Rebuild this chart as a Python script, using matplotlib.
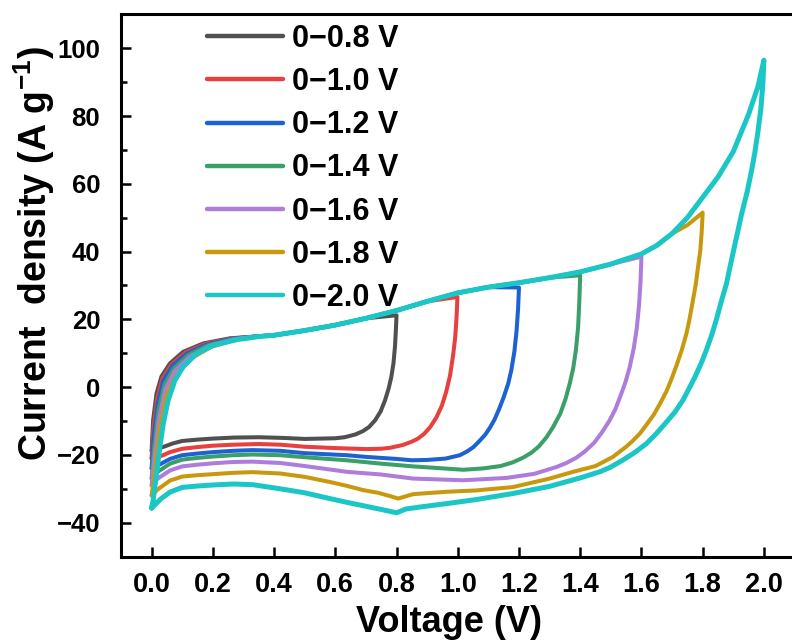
import matplotlib
matplotlib.use("Agg")
import matplotlib.pyplot as plt

# ---------------- data ----------------
labels = ["0\u22120.8 V", "0\u22121.0 V", "0\u22121.2 V", "0\u22121.4 V",
          "0\u22121.6 V", "0\u22121.8 V", "0\u22122.0 V"]
colors = ["#505050", "#e8403f", "#1c62d4", "#3a9f68", "#ae7ddc", "#c8990f", "#1ac6c6"]

# shared anodic (upper) envelope, V > 0.35
env_v = [0.4, 0.5, 0.6, 0.7, 0.8, 0.9, 1.0, 1.1, 1.2, 1.3, 1.4, 1.5, 1.6, 1.65,
         1.7, 1.75, 1.8, 1.85, 1.9, 1.95, 1.98]
env_i = [15.3, 16.7, 18.3, 20.3, 22.6, 25.3, 27.8, 29.5, 30.8, 32.3, 34.0, 36.3,
         39.3, 41.8, 45.3, 50.0, 56.0, 62.0, 69.5, 80.5, 88.5]

# anodic start segments (V <= 0.35)
s08_v = [0, 0.005, 0.016, 0.032, 0.06, 0.103, 0.169, 0.256, 0.35]
s08_i = [-18.8, -9.7, -1.9, 3.1, 7.0, 10.4, 12.9, 14.4, 15.0]
s10_v = [0, 0.006, 0.018, 0.035, 0.065, 0.11, 0.175, 0.26, 0.35]
s10_i = [-21.0, -12.0, -3.5, 2.5, 6.7, 10.2, 12.8, 14.3, 15.0]
s12_v = [0, 0.007, 0.02, 0.038, 0.068, 0.115, 0.18, 0.265, 0.35]
s12_i = [-24.0, -14.5, -5.0, 1.8, 6.3, 9.9, 12.6, 14.3, 15.0]
s14_v = [0, 0.008, 0.022, 0.042, 0.072, 0.12, 0.185, 0.27, 0.35]
s14_i = [-27.0, -18.0, -7.0, 0.8, 5.5, 9.5, 12.4, 14.2, 15.0]
s16_v = [0, 0.009, 0.024, 0.045, 0.076, 0.125, 0.19, 0.27, 0.35]
s16_i = [-29.0, -21.0, -9.5, -0.5, 4.8, 9.0, 12.2, 14.1, 15.0]
s18_v = [0, 0.01, 0.026, 0.048, 0.08, 0.13, 0.195, 0.275, 0.35]
s18_i = [-32.0, -25.0, -12.5, -2.5, 3.5, 8.5, 11.9, 14.0, 15.0]
s20_v = [0, 0.005, 0.016, 0.027, 0.038, 0.054, 0.076, 0.103, 0.147, 0.201, 0.278, 0.35]
s20_i = [-35.7, -33.4, -25.6, -17.7, -10.8, -3.9, 2.0, 6.0, 9.9, 12.3, 14.0, 14.9]

# cathodic (return) branches, from the vertex back to 0 V
d08_v = [0.80, 0.798, 0.795, 0.79, 0.783, 0.774, 0.762, 0.748, 0.73, 0.71, 0.69,
         0.665, 0.63, 0.6, 0.5, 0.43, 0.35, 0.267, 0.2, 0.15, 0.1, 0.07, 0.043, 0.02, 0]
d08_i = [21.2, 17.0, 12.0, 7.0, 3.0, -0.5, -4.0, -7.2, -9.8, -11.8, -13.0,
         -14.0, -14.8, -15.1, -15.3, -15.0, -14.8, -14.9, -15.2, -15.5, -15.9, -16.6,
         -17.5, -18.2, -18.8]
d10_v = [0.999, 0.996, 0.992, 0.985, 0.975, 0.962, 0.948, 0.93, 0.91, 0.89, 0.87,
         0.85, 0.82, 0.78, 0.75, 0.7, 0.6, 0.5, 0.42, 0.35, 0.267, 0.2, 0.15, 0.1,
         0.06, 0.035, 0]
d10_i = [26.6, 20.5, 15.0, 9.5, 3.5, -1.5, -5.5, -9.0, -11.8, -13.8, -15.2,
         -16.1, -17.1, -17.9, -18.2, -18.3, -18.0, -17.6, -17.0, -16.8, -17.0, -17.3,
         -17.7, -18.2, -19.2, -20.2, -21.0]
d12_v = [1.2, 1.197, 1.192, 1.185, 1.175, 1.165, 1.15, 1.135, 1.12, 1.105, 1.09,
         1.07, 1.05, 1.03, 1.007, 0.96, 0.9, 0.85, 0.8, 0.7, 0.637, 0.5, 0.42, 0.33,
         0.267, 0.2, 0.15, 0.1, 0.06, 0.027, 0]
d12_i = [29.4, 23.0, 16.5, 10.5, 5.0, 1.1, -3.0, -6.5, -9.6, -12.0, -14.0,
         -16.0, -17.8, -19.0, -20.1, -21.1, -21.5, -21.6, -21.2, -20.6, -20.1, -19.5,
         -18.8, -18.6, -18.8, -19.2, -19.6, -20.1, -21.2, -22.8, -24.0]
d14_v = [1.4, 1.397, 1.393, 1.386, 1.377, 1.366, 1.352, 1.335, 1.312, 1.29, 1.265,
         1.24, 1.214, 1.18, 1.14, 1.083, 1.018, 0.92, 0.854, 0.75, 0.637, 0.5, 0.42,
         0.33, 0.267, 0.2, 0.15, 0.1, 0.06, 0.02, 0]
d14_i = [33.0, 25.0, 17.5, 11.0, 5.5, 1.1, -3.5, -7.8, -11.7, -14.8, -17.5,
         -19.4, -20.8, -22.2, -23.3, -24.0, -24.4, -23.8, -23.4, -22.6, -21.6, -20.7,
         -20.1, -19.9, -20.1, -20.5, -20.9, -21.4, -22.6, -25.0, -27.0]
d16_v = [1.6, 1.597, 1.592, 1.585, 1.575, 1.562, 1.548, 1.532, 1.515, 1.495, 1.47,
         1.445, 1.415, 1.388, 1.355, 1.322, 1.25, 1.16, 1.018, 0.92, 0.854, 0.75,
         0.637, 0.5, 0.42, 0.33, 0.267, 0.2, 0.15, 0.1, 0.06, 0.02, 0]
d16_i = [38.5, 31.0, 24.0, 17.5, 11.5, 6.0, 1.5, -2.5, -6.5, -10.0, -13.5,
         -16.5, -19.0, -20.8, -22.4, -23.6, -25.6, -26.8, -27.5, -27.2, -27.0, -25.8,
         -25.0, -23.3, -22.4, -22.0, -22.1, -22.5, -22.9, -23.4, -24.6, -27.0, -29.0]
d18_v = [1.75, 1.8, 1.797, 1.792, 1.785, 1.777, 1.767, 1.757, 1.747, 1.732, 1.715,
         1.7, 1.682, 1.66, 1.64, 1.615, 1.595, 1.57, 1.55, 1.507, 1.45, 1.377, 1.3,
         1.181, 1.06, 0.963, 0.9, 0.854, 0.805, 0.78, 0.74, 0.691, 0.64, 0.582, 0.5,
         0.42, 0.33, 0.267, 0.2, 0.15, 0.1, 0.06, 0.02, 0]
d18_i = [47.8, 51.5, 46.0, 40.0, 35.5, 30.0, 25.0, 20.0, 15.8, 11.0, 6.5,
         2.8, -1.2, -5.0, -8.2, -11.3, -13.7, -16.0, -17.6, -20.6, -23.3, -25.0,
         -27.0, -29.5, -30.5, -30.9, -31.3, -31.6, -32.9, -32.2, -31.2, -30.4, -29.2,
         -28.0, -26.5, -25.5, -25.1, -25.3, -25.7, -26.0, -26.4, -27.6, -30.2, -32.0]
d20_v = [2.0, 1.997, 1.99, 1.98, 1.97, 1.96, 1.945, 1.927, 1.91, 1.893, 1.878, 1.86,
         1.845, 1.83, 1.812, 1.795, 1.775, 1.755, 1.736, 1.71, 1.68, 1.65, 1.616, 1.58,
         1.54, 1.5, 1.464, 1.4, 1.3, 1.181, 1.06, 0.963, 0.876, 0.83, 0.80, 0.77,
         0.691, 0.637, 0.582, 0.5, 0.419, 0.33, 0.267, 0.2, 0.15, 0.1, 0.06, 0.03, 0]
d20_i = [96.5, 90.0, 82.0, 75.0, 69.0, 64.0, 57.5, 51.0, 44.0, 37.0, 30.6, 25.0,
         20.0, 15.5, 10.9, 7.0, 3.0, -0.5, -3.8, -7.3, -10.5, -13.6, -16.7, -19.2,
         -21.5, -23.6, -25.0, -26.8, -29.3, -31.4, -33.2, -34.4, -35.4, -36.0, -37.1,
         -36.5, -35.0, -34.0, -32.9, -31.2, -30.0, -28.8, -28.6, -28.9, -29.2, -29.6,
         -31.0, -33.0, -35.7]

starts_v = [s08_v, s10_v, s12_v, s14_v, s16_v, s18_v, s20_v]
starts_i = [s08_i, s10_i, s12_i, s14_i, s16_i, s18_i, s20_i]
downs_v = [d08_v, d10_v, d12_v, d14_v, d16_v, d18_v, d20_v]
downs_i = [d08_i, d10_i, d12_i, d14_i, d16_i, d18_i, d20_i]

x_ticks = [0.0, 0.2, 0.4, 0.6, 0.8, 1.0, 1.2, 1.4, 1.6, 1.8, 2.0]
y_ticks = [-40, -20, 0, 20, 40, 60, 80, 100]

# ---------------- style ----------------
plt.rcParams['font.family'] = ['Liberation Sans', 'DejaVu Sans']
plt.rcParams['font.weight'] = 'bold'
plt.rcParams['mathtext.fontset'] = 'custom'
plt.rcParams['mathtext.rm'] = 'Liberation Sans:bold'
plt.rcParams['mathtext.bf'] = 'Liberation Sans:bold'
plt.rcParams['mathtext.default'] = 'bf'

fig = plt.figure(figsize=(7.92, 6.41), dpi=100)
ax = fig.add_axes([121 / 792, (641 - 556.5) / 641, 673.5 / 792, (556.5 - 14.4) / 641])

for k in range(len(labels)):
    vmax = downs_v[k][0]
    xs = list(starts_v[k]) + [v for v in env_v if 0.35 < v < vmax - 0.01] + list(downs_v[k])
    ys = list(starts_i[k]) + [i for v, i in zip(env_v, env_i) if 0.35 < v < vmax - 0.01] + list(downs_i[k])
    lw = 3.6 if k == len(labels) - 1 else 2.9
    ax.plot(xs, ys, color=colors[k], lw=lw, label=labels[k],
            solid_joinstyle='round', solid_capstyle='round', zorder=2 + k)

ax.set_xlim(-0.1, 2.1)
ax.set_ylim(-50, 110)
ax.set_xticks(x_ticks)
ax.set_xticklabels([f"{t:.1f}" for t in x_ticks])
ax.set_yticks(y_ticks)
ax.set_yticks([-50, -30, -10, 10, 30, 50, 70, 90, 110], minor=True)

for s in ax.spines.values():
    s.set_linewidth(2.2)
ax.tick_params(axis='both', which='major', direction='in', length=7, width=1.8)
ax.tick_params(axis='y', which='minor', direction='in', length=4, width=1.8)
ax.tick_params(axis='x', which='major', labelsize=19.5, pad=11)
ax.tick_params(axis='y', which='major', labelsize=18.5, pad=15)
for lab in ax.get_xticklabels() + ax.get_yticklabels():
    lab.set_fontweight('bold')

ax.set_xlabel("Voltage (V)", fontsize=26, fontweight='bold')
ax.xaxis.set_label_coords((449 - 121) / 673.5, -(605 - 556.5) / 542.1)
ax.set_ylabel("Current  density (A g$^{-1}$)", fontsize=27, fontweight='bold')
ax.yaxis.set_label_coords((57 - 121) / 673.5, (556.5 - 254) / 542.1)

leg = ax.legend(loc='upper left', bbox_to_anchor=(207 / 792, 1 - 24 / 641),
                bbox_transform=fig.transFigure, frameon=False,
                handlelength=2.48, handletextpad=0.3, labelspacing=0.43,
                borderpad=0, borderaxespad=0, prop={'weight': 'bold', 'size': 22})
for line in leg.get_lines():
    line.set_linewidth(3.2)
    line.set_solid_capstyle('round')

fig.savefig("out.png", dpi=100)
